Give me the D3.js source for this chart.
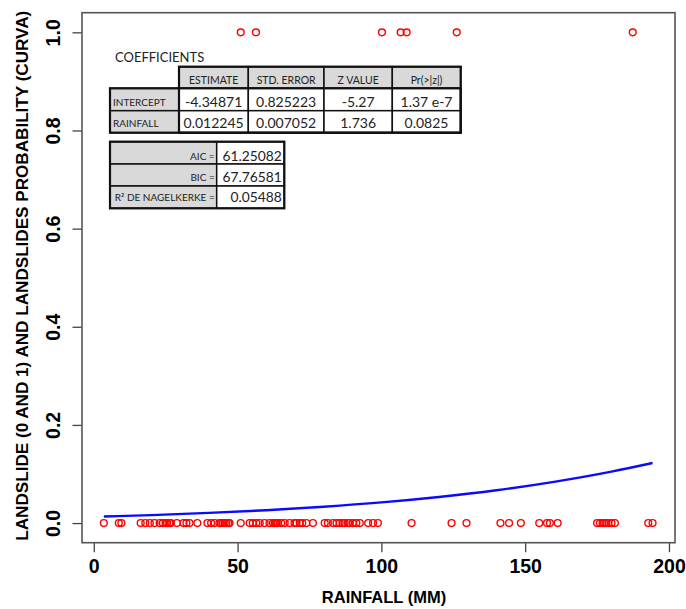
<!DOCTYPE html>
<html><head><meta charset="utf-8">
<script src="https://cdnjs.cloudflare.com/ajax/libs/d3/7.8.5/d3.min.js"></script>
<style>html,body{margin:0;padding:0;background:#fff;}svg{display:block;}</style>
</head><body>
<script>
// ---- data ----
const zeroRain = [3.5, 8.7, 9.6, 16.3, 17.9, 19.5, 21.1, 22.9, 24.0, 25.0, 25.5, 26.3, 26.8, 28.9, 31.2, 32.2, 33.3, 36.0,
  39.5, 40.8, 42.0, 43.7, 44.2, 44.9, 45.5, 46.1, 46.8, 47.2, 51.1, 54.2, 55.3, 56.5, 57.7, 59.4, 61.1, 62.3, 62.9, 63.5, 64.0,
  65.2, 66.4, 68.1, 69.8, 70.5, 71.6, 72.5, 73.9, 76.2, 80.3, 81.4, 83.2, 84.4, 85.5, 86.5, 87.2, 88.4, 88.9, 90.1, 91.3, 92.5,
  95.4, 97.1, 98.8, 110.5, 124.4, 129.6, 141.4, 144.4, 148.5, 154.9, 157.6, 158.6, 161.3,
  175.0, 176.0, 176.9, 177.5, 178.2, 178.9, 180.0, 181.2, 192.8, 194.3];
const oneRain = [51.1, 56.4, 100.2, 106.7, 108.8, 126.2, 187.4];
const curveRain = [3.5, 20, 40, 60, 80, 100, 120, 140, 160, 180, 194.3];
const curveProb = [0.0133, 0.0162, 0.0207, 0.0262, 0.0333, 0.0421, 0.0532, 0.0669, 0.0840, 0.1048, 0.1225];
const xTicks = [0, 50, 100, 150, 200];
const yTicks = [0, 0.2, 0.4, 0.6, 0.8, 1.0];
const coefCols = ["ESTIMATE", "STD. ERROR", "Z VALUE", "Pr(>|z|)"];
const coefRowNames = ["INTERCEPT", "RAINFALL"];
const coefIntercept = ["-4.34871", "0.825223", "-5.27", "1.37 e-7"];
const coefRainfall = ["0.012245", "0.007052", "1.736", "0.0825"];
const fitLabels = ["AIC =", "BIC =", "R² DE NAGELKERKE ="];
const fitValues = ["61.25082", "67.76581", "0.05488"];

// ---- layout ----
const W = 686, H = 609;
const box = {left: 82, right: 675, top: 12.7, bottom: 542.7};
const x = d3.scaleLinear().domain([-4.1, 202.1]).range([box.left, box.right]);
const y = d3.scaleLinear().domain([-0.04, 1.04]).range([box.bottom, box.top]);

const svg = d3.select("body").append("svg").attr("width", W).attr("height", H);
svg.append("rect").attr("width", W).attr("height", H).attr("fill", "#fff");

// axes
const axFont = "'Liberation Sans', Arial, sans-serif";
const xAxis = svg.append("g").attr("transform", `translate(0,${box.bottom})`)
  .call(d3.axisBottom(x).tickValues(xTicks).tickSize(9.5).tickPadding(21).tickSizeOuter(0));
xAxis.select(".domain").remove();
xAxis.selectAll("line").attr("stroke", "#444").attr("stroke-width", 1.3);
xAxis.selectAll("text").attr("font-family", axFont).attr("font-weight", "bold").attr("font-size", 19.5).attr("fill", "#000")
  .attr("dy", "0");

const yAxis = svg.append("g").attr("transform", `translate(${box.left},0)`)
  .call(d3.axisLeft(y).tickValues(yTicks).tickFormat(d3.format(".1f")).tickSize(9.5).tickSizeOuter(0));
yAxis.select(".domain").remove();
yAxis.selectAll("line").attr("stroke", "#444").attr("stroke-width", 1.3);
yAxis.selectAll("text").attr("font-family", axFont).attr("font-weight", "bold").attr("font-size", 19.5).attr("fill", "#000")
  .attr("x", null).attr("dy", null)
  .attr("text-anchor", "middle")
  .attr("transform", "translate(-22,0) rotate(-90)");

// box
svg.append("rect").attr("x", box.left).attr("y", box.top)
  .attr("width", box.right - box.left).attr("height", box.bottom - box.top)
  .attr("fill", "none").attr("stroke", "#555").attr("stroke-width", 1.6);

// axis titles
svg.append("text").attr("x", 384).attr("y", 603).attr("text-anchor", "middle")
  .attr("font-family", axFont).attr("font-weight", "bold").attr("font-size", 16.5).attr("fill", "#000")
  .text("RAINFALL (MM)");
svg.append("text").attr("transform", `translate(28,${(box.top + box.bottom) / 2 - 2}) rotate(-90)`)
  .attr("text-anchor", "middle")
  .attr("font-family", axFont).attr("font-weight", "bold").attr("font-size", 16).attr("fill", "#000")
  .attr("textLength", 530).attr("lengthAdjust", "spacingAndGlyphs")
  .text("LANDSLIDE (0 AND 1) AND LANDSLIDES PROBABILITY (CURVA)");

// points
const pts = zeroRain.map(r => ({r, v: 0})).concat(oneRain.map(r => ({r, v: 1})));
svg.append("g").selectAll("circle").data(pts).join("circle")
  .attr("cx", d => x(d.r)).attr("cy", d => y(d.v)).attr("r", 3.4)
  .attr("fill", "none").attr("stroke", "#ff0000").attr("stroke-width", 1.4);

// curve
const curveData = curveRain.map((r, i) => ({r, p: curveProb[i]}));
svg.append("path").datum(curveData)
  .attr("d", d3.line().x(d => x(d.r)).y(d => y(d.p)).curve(d3.curveMonotoneX))
  .attr("fill", "none").attr("stroke", "#0a0aff").attr("stroke-width", 2.4);

// ---- tables ----
const tFont = "Lato, 'Open Sans', sans-serif";
const grey = "#d9d9d9";
const tg = svg.append("g");
tg.append("text").attr("x", 115).attr("y", 61.5).attr("font-family", tFont).attr("font-size", 13)
  .attr("fill", "#222").text("COEFFICIENTS");

const colX = [179, 248.3, 324, 392.3, 460.7];
const rowY = [66.7, 88.3, 110.7, 132.7];
const labelX0 = 110;
coefCols.forEach((c, i) => {
  tg.append("rect").attr("x", colX[i]).attr("y", rowY[0]).attr("width", colX[i + 1] - colX[i]).attr("height", rowY[1] - rowY[0])
    .attr("fill", grey).attr("stroke", "#111").attr("stroke-width", 1.5);
  tg.append("text").attr("x", (colX[i] + colX[i + 1]) / 2).attr("y", 84).attr("text-anchor", "middle")
    .attr("font-family", tFont).attr("font-size", 10.5).attr("fill", "#222").text(c);
});
const rowsVals = [coefIntercept, coefRainfall];
const baseY = [106.5, 127.8];
coefRowNames.forEach((n, r) => {
  tg.append("rect").attr("x", labelX0).attr("y", rowY[r + 1]).attr("width", colX[0] - labelX0).attr("height", rowY[r + 2] - rowY[r + 1])
    .attr("fill", grey).attr("stroke", "#111").attr("stroke-width", 1.5);
  tg.append("text").attr("x", labelX0 + 3).attr("y", baseY[r] - 1).attr("font-family", tFont).attr("font-size", 10)
    .attr("fill", "#222").text(n);
  rowsVals[r].forEach((v, i) => {
    tg.append("rect").attr("x", colX[i]).attr("y", rowY[r + 1]).attr("width", colX[i + 1] - colX[i]).attr("height", rowY[r + 2] - rowY[r + 1])
      .attr("fill", "#fff").attr("stroke", "#111").attr("stroke-width", 1.5);
    tg.append("text").attr("x", (colX[i] + colX[i + 1]) / 2).attr("y", baseY[r]).attr("text-anchor", "middle")
      .attr("font-family", tFont).attr("font-size", 14).attr("fill", "#222").text(v);
  });
});
tg.append("rect").attr("x", colX[0]).attr("y", rowY[0]).attr("width", colX[4] - colX[0]).attr("height", rowY[3] - rowY[0])
  .attr("fill", "none").attr("stroke", "#111").attr("stroke-width", 2.2);
tg.append("rect").attr("x", labelX0).attr("y", rowY[1]).attr("width", colX[4] - labelX0).attr("height", rowY[3] - rowY[1])
  .attr("fill", "none").attr("stroke", "#111").attr("stroke-width", 2.2);

// fit stats table
const fX = [110, 216.7, 284.3];
const fY = [141.7, 164, 186, 208.3];
const fBase = [160.5, 182, 201.8];
fitLabels.forEach((l, r) => {
  tg.append("rect").attr("x", fX[0]).attr("y", fY[r]).attr("width", fX[1] - fX[0]).attr("height", fY[r + 1] - fY[r])
    .attr("fill", grey).attr("stroke", "#111").attr("stroke-width", 1.5);
  tg.append("rect").attr("x", fX[1]).attr("y", fY[r]).attr("width", fX[2] - fX[1]).attr("height", fY[r + 1] - fY[r])
    .attr("fill", "#fff").attr("stroke", "#111").attr("stroke-width", 1.5);
  tg.append("text").attr("x", fX[1] - 2).attr("y", fBase[r] - 1).attr("text-anchor", "end")
    .attr("font-family", tFont).attr("font-size", 10).attr("fill", "#222").text(l);
  tg.append("text").attr("x", fX[2] - 2.5).attr("y", fBase[r]).attr("text-anchor", "end")
    .attr("font-family", tFont).attr("font-size", 13.8).attr("fill", "#222").text(fitValues[r]);
});
tg.append("rect").attr("x", fX[0]).attr("y", fY[0]).attr("width", fX[2] - fX[0]).attr("height", fY[3] - fY[0])
  .attr("fill", "none").attr("stroke", "#111").attr("stroke-width", 2.2);
</script>
</body></html>
